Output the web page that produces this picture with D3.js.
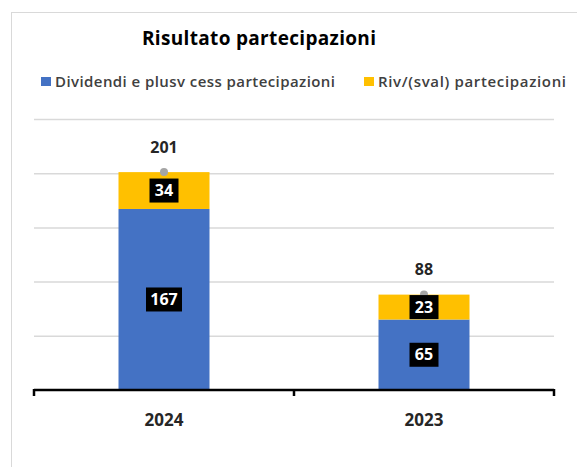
<!DOCTYPE html>
<html lang="it">
    <head>
        <meta charset="utf-8" />
        <title>Risultato partecipazioni</title>
        <style>
            body { margin: 0; background: #fff; }
            svg text { font-family: "Open Sans", "Noto Sans", sans-serif; fill: #262626; }
        </style>
        <script src="https://cdn.jsdelivr.net/npm/d3@7"></script>
    </head>
    <body>
        <script>
            // data
            var years = ['2024', '2023'];
            var dividendi = [167, 65];
            var rivalutazioni = [34, 23];
            var totals = [201, 88];
            var seriesNames = ['Dividendi e plusv cess partecipazioni', 'Riv/(sval) partecipazioni'];
            var seriesColors = ['#4472c4', '#ffc000'];
            var yTicks = [0, 50, 100, 150, 200, 250];

            var width = 577,
                height = 467;

            var svg = d3.select('body')
                        .append('svg')
                        .attr('width', width)
                        .attr('height', height);

            // chart border (only left/top edges are visible in the crop)
            svg.append('rect')
                .attr('x', 11.5).attr('y', 12.5)
                .attr('width', 620).attr('height', 500)
                .attr('fill', 'none')
                .attr('stroke', '#d9d9d9');

            var x = d3.scaleBand()
                        .domain(years)
                        .range([34, 554])
                        .paddingInner(0.65)
                        .paddingOuter(0.325);

            var y = d3.scaleLinear()
                        .domain([0, 250])
                        .range([390, 119]);

            // gridlines
            svg.append('g')
                .selectAll('line')
                .data(yTicks.slice(1))
                .enter()
                .append('line')
                .attr('x1', 34).attr('x2', 554)
                .attr('y1', function(d) { return y(d) + 0.5; })
                .attr('y2', function(d) { return y(d) + 0.5; })
                .attr('stroke', '#d9d9d9')
                .attr('stroke-width', 1.5);

            // stacked rows
            var rows = years.map(function(yr, i) {
                return { year: yr, a: dividendi[i], b: rivalutazioni[i], total: totals[i] };
            });
            var stack = d3.stack().keys(['a', 'b'])(rows);

            var layers = svg.selectAll('g.layer')
                            .data(stack)
                            .enter()
                            .append('g')
                            .attr('class', 'layer')
                            .attr('fill', function(d, i) { return seriesColors[i]; });

            layers.selectAll('rect')
                .data(function(d) { return d; })
                .enter()
                .append('rect')
                .attr('x', function(d) { return x(d.data.year); })
                .attr('width', x.bandwidth())
                .attr('y', function(d) { return y(d[1]); })
                .attr('height', function(d) { return y(d[0]) - y(d[1]); });

            // x axis: thick line with downward ticks at category boundaries
            var axis = svg.append('g');
            axis.append('line')
                .attr('x1', 34).attr('x2', 554)
                .attr('y1', 390).attr('y2', 390)
                .attr('stroke', '#000')
                .attr('stroke-width', 2.5);
            var boundaries = [34, 34 + x.step(), 554];
            axis.selectAll('line.tick')
                .data(boundaries)
                .enter()
                .append('line')
                .attr('class', 'tick')
                .attr('x1', function(d) { return d; })
                .attr('x2', function(d) { return d; })
                .attr('y1', 389).attr('y2', 396)
                .attr('stroke', '#000')
                .attr('stroke-width', 2.5);

            axis.selectAll('text')
                .data(years)
                .enter()
                .append('text')
                .attr('x', function(d) { return x(d) + x.bandwidth() / 2; })
                .attr('y', 420)
                .attr('dy', '.35em')
                .attr('text-anchor', 'middle')
                .style('font-size', '17px')
                .style('font-weight', 'bold')
                .text(function(d) { return d; });

            // total markers (gray dots) and labels
            svg.selectAll('circle.tot')
                .data(rows)
                .enter()
                .append('circle')
                .attr('class', 'tot')
                .attr('cx', function(d) { return x(d.year) + x.bandwidth() / 2; })
                .attr('cy', function(d) { return y(d.total); })
                .attr('r', 4)
                .attr('fill', '#a5a5a5');

            svg.selectAll('text.tot')
                .data(rows)
                .enter()
                .append('text')
                .attr('class', 'tot')
                .attr('x', function(d) { return x(d.year) + x.bandwidth() / 2; })
                .attr('y', function(d) { return y(d.total) - 25; })
                .attr('dy', '.35em')
                .attr('text-anchor', 'middle')
                .style('font-size', '16px')
                .style('font-weight', 'bold')
                .text(function(d) { return d.total; });

            // segment labels: white text on black boxes
            var segLabels = svg.append('g');
            stack.forEach(function(layer) {
                layer.forEach(function(d) {
                    var v = d[1] - d[0];
                    var cx = x(d.data.year) + x.bandwidth() / 2;
                    var cy = (y(d[0]) + y(d[1])) / 2;
                    var w = String(v).length === 3 ? 36 : 29;
                    segLabels.append('rect')
                        .attr('x', cx - w / 2)
                        .attr('y', cy - 12)
                        .attr('width', w)
                        .attr('height', 24)
                        .attr('fill', '#000');
                    segLabels.append('text')
                        .attr('x', cx)
                        .attr('y', cy)
                        .attr('dy', '.35em')
                        .attr('text-anchor', 'middle')
                        .style('font-size', '16px')
                        .style('font-weight', 'bold')
                        .style('fill', '#fff')
                        .text(v);
                });
            });

            // title
            svg.append('text')
                .attr('x', 259)
                .attr('y', 38)
                .attr('dy', '.35em')
                .attr('text-anchor', 'middle')
                .attr('textLength', 234)
                .style('font-size', '19px')
                .style('font-weight', 'bold')
                .style('fill', '#000')
                .text('Risultato partecipazioni');

            // legend
            var legendX = [41, 364];
            var legendW = [280, 188];
            var legend = svg.selectAll('g.legend')
                            .data(seriesNames)
                            .enter()
                            .append('g')
                            .attr('class', 'legend')
                            .attr('transform', function(d, i) { return 'translate(' + legendX[i] + ',82)'; });
            legend.append('rect')
                .attr('x', 0).attr('y', -5)
                .attr('width', 10).attr('height', 9)
                .attr('fill', function(d, i) { return seriesColors[i]; });
            legend.append('text')
                .attr('x', 14)
                .attr('y', 0)
                .attr('dy', '.35em')
                .attr('textLength', function(d, i) { return legendW[i]; })
                .style('font-size', '15px')
                .style('font-weight', '600')
                .style('fill', '#404040')
                .text(function(d) { return d; });
        </script>
    </body>
</html>
